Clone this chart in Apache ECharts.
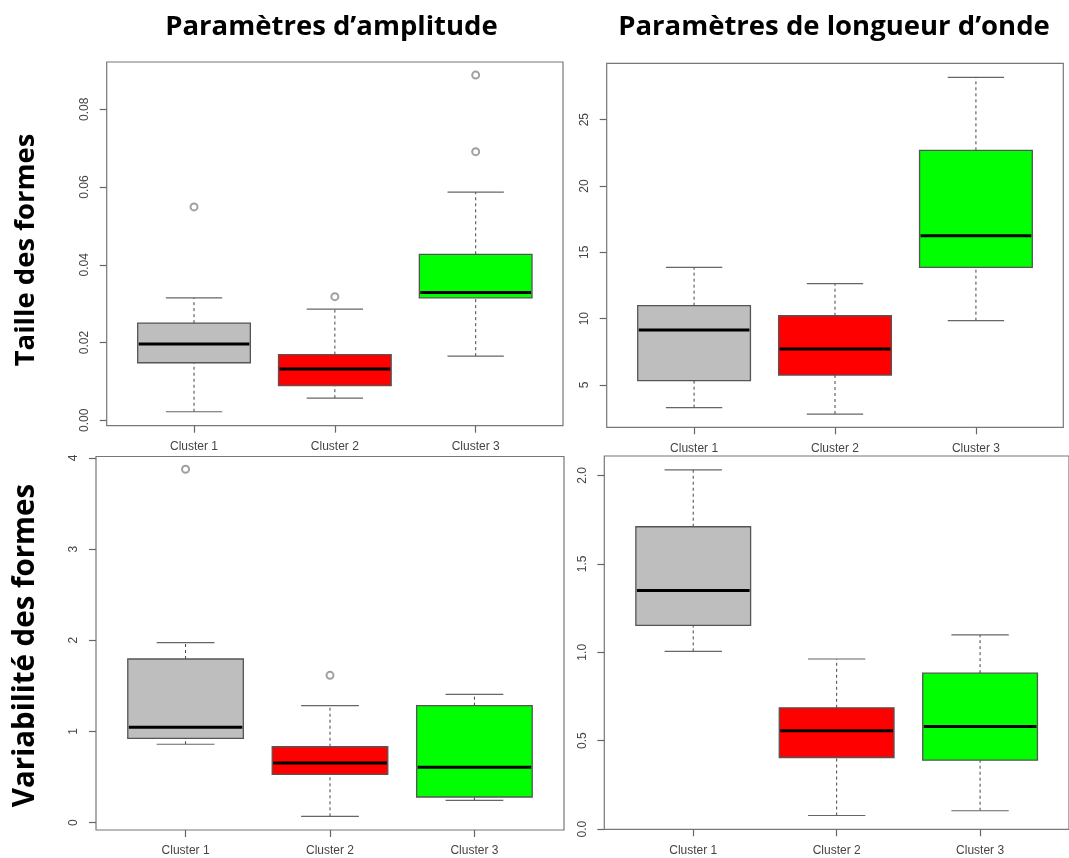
<!DOCTYPE html>
<html>
<head>
<meta charset="utf-8">
<script src="https://cdn.jsdelivr.net/npm/echarts@6/dist/echarts.min.js"></script>
<style>
html,body{margin:0;padding:0;background:#fff;}
#chart{width:1069px;height:858px;}
</style>
</head>
<body>
<div id="chart"></div>
<script>
// ---------- DATA ----------
const categories = ['Cluster 1', 'Cluster 2', 'Cluster 3'];
const colTitles = ['Paramètres d\u2019amplitude', 'Paramètres de longueur d\u2019onde'];
const rowTitles = ['Taille des formes', 'Variabilité des formes'];
const boxColors = ['#BEBEBE', '#FF0000', '#00FF00'];

// each row: [lower whisker, Q1, median, Q3, upper whisker]
const amplitudeSize = [
  [0.0022, 0.0148, 0.0196, 0.0250, 0.0315],
  [0.0057, 0.0089, 0.0132, 0.0169, 0.0286],
  [0.0165, 0.0315, 0.0329, 0.0427, 0.0587]
];
const amplitudeSizeOutliers = [[1, 0.0549], [2, 0.0318], [3, 0.0691], [3, 0.0888]];

const wavelengthSize = [
  [3.29, 5.33, 9.15, 10.98, 13.87],
  [2.81, 5.75, 7.71, 10.22, 12.64],
  [9.85, 13.87, 16.25, 22.69, 28.19]
];
const wavelengthSizeOutliers = [];

const amplitudeVar = [
  [0.86, 0.925, 1.046, 1.795, 1.974],
  [0.07, 0.53, 0.655, 0.833, 1.283],
  [0.245, 0.282, 0.607, 1.283, 1.408]
];
const amplitudeVarOutliers = [[1, 3.875], [2, 1.616]];

const wavelengthVar = [
  [1.005, 1.152, 1.35, 1.71, 2.032],
  [0.077, 0.405, 0.556, 0.686, 0.962],
  [0.104, 0.39, 0.58, 0.882, 1.099]
];
const wavelengthVarOutliers = [];

// tick values and labels
const ampSizeTicks = [0, 0.02, 0.04, 0.06, 0.08];
const ampSizeTickLabels = ['0.00', '0.02', '0.04', '0.06', '0.08'];
const waveSizeTicks = [5, 10, 15, 20, 25];
const waveSizeTickLabels = ['5', '10', '15', '20', '25'];
const ampVarTicks = [0, 1, 2, 3, 4];
const ampVarTickLabels = ['0', '1', '2', '3', '4'];
const waveVarTicks = [0, 0.5, 1, 1.5, 2];
const waveVarTickLabels = ['0.0', '0.5', '1.0', '1.5', '2.0'];
const xTicks = [1, 2, 3];

// ---------- LAYOUT ----------
const panels = [
  {grid: {left: 106.7, top: 62, width: 456.3, height: 363.7}, y: [-0.00139, 0.09217], stats: amplitudeSize, out: amplitudeSizeOutliers, ticks: ampSizeTicks, labels: ampSizeTickLabels},
  {grid: {left: 606.7, top: 63.3, width: 456.6, height: 364}, y: [1.81, 29.25], stats: wavelengthSize, out: wavelengthSizeOutliers, ticks: waveSizeTicks, labels: waveSizeTickLabels},
  {grid: {left: 96, top: 456.5, width: 468, height: 373.5}, y: [-0.080, 4.015], stats: amplitudeVar, out: amplitudeVarOutliers, ticks: ampVarTicks, labels: ampVarTickLabels},
  {grid: {left: 604.3, top: 456, width: 467.5, height: 373.3}, y: [-0.001, 2.11], stats: wavelengthVar, out: wavelengthVarOutliers, ticks: waveVarTicks, labels: waveVarTickLabels}
];

const tickFont = {fontFamily: 'Liberation Sans, Arial, sans-serif', fontSize: 12, color: '#444'};

function renderBox(params, api) {
  const x = api.value(0);
  const low = api.value(1), q1 = api.value(2), med = api.value(3), q3 = api.value(4), high = api.value(5);
  const unit = api.size([1, 0])[0];
  const halfBox = unit * 0.4;
  const halfCap = unit * 0.2;
  const pLow = api.coord([x, low]);
  const pQ1 = api.coord([x, q1]);
  const pMed = api.coord([x, med]);
  const pQ3 = api.coord([x, q3]);
  const pHigh = api.coord([x, high]);
  const cx = pMed[0];
  const color = boxColors[params.dataIndex];
  const edge = '#555';
  const dashStyle = {stroke: '#444', lineWidth: 1, lineDash: [3, 3]};
  const capStyle = {stroke: '#666', lineWidth: 1.2};
  return {
    type: 'group',
    children: [
      {type: 'line', shape: {x1: cx, y1: pLow[1], x2: cx, y2: pQ1[1]}, style: dashStyle},
      {type: 'line', shape: {x1: cx, y1: pQ3[1], x2: cx, y2: pHigh[1]}, style: dashStyle},
      {type: 'line', shape: {x1: cx - halfCap, y1: pLow[1], x2: cx + halfCap, y2: pLow[1]}, style: capStyle},
      {type: 'line', shape: {x1: cx - halfCap, y1: pHigh[1], x2: cx + halfCap, y2: pHigh[1]}, style: capStyle},
      {type: 'rect', shape: {x: cx - halfBox, y: pQ3[1], width: halfBox * 2, height: pQ1[1] - pQ3[1]},
        style: {fill: color, stroke: edge, lineWidth: 1.3}},
      {type: 'line', shape: {x1: cx - halfBox + 1, y1: pMed[1], x2: cx + halfBox - 1, y2: pMed[1]},
        style: {stroke: '#000', lineWidth: 3}}
    ]
  };
}

const grids = [], xAxes = [], yAxes = [], series = [];
panels.forEach((p, i) => {
  grids.push(Object.assign({show: true, borderColor: '#777', borderWidth: 1.2, backgroundColor: 'transparent'}, p.grid));
  xAxes.push({
    type: 'value', gridIndex: i, min: 0.38, max: 3.62, position: 'bottom',
    splitLine: {show: false}, axisLine: {show: false, onZero: false},
    axisTick: {show: true, customValues: xTicks, length: 7, lineStyle: {color: '#666', width: 1.2}},
    axisLabel: Object.assign({show: true, customValues: xTicks, margin: 15,
      formatter: v => categories[Math.round(v) - 1]}, tickFont)
  });
  yAxes.push({
    type: 'value', gridIndex: i, min: p.y[0], max: p.y[1], position: 'left',
    splitLine: {show: false}, axisLine: {show: false, onZero: false},
    axisTick: {show: true, customValues: p.ticks, length: 7, lineStyle: {color: '#666', width: 1.2}},
    axisLabel: Object.assign({show: true, customValues: p.ticks, rotate: 90, margin: 16,
      formatter: v => { const k = p.ticks.findIndex(t => Math.abs(t - v) < 1e-9); return k >= 0 ? p.labels[k] : ''; }}, tickFont)
  });
  series.push({
    type: 'custom', xAxisIndex: i, yAxisIndex: i,
    renderItem: renderBox,
    data: p.stats.map((s, k) => [k + 1].concat(s)),
    encode: {x: 0, y: [1, 2, 3, 4, 5]},
    silent: true, animation: false
  });
  series.push({
    type: 'scatter', xAxisIndex: i, yAxisIndex: i,
    data: p.out,
    symbol: 'emptyCircle', symbolSize: 7,
    itemStyle: {color: '#888', borderColor: '#888', borderWidth: 1.2},
    silent: true, animation: false, z: 5
  });
});

const titleFont = 'Open Sans, Liberation Sans, sans-serif';
const graphic = [
  {type: 'text', x: 331.5, y: 27, style: {text: colTitles[0], font: 'bold 27.5px ' + titleFont, fill: '#000', align: 'center', verticalAlign: 'middle'}},
  {type: 'text', x: 834, y: 27, style: {text: colTitles[1], font: 'bold 27.5px ' + titleFont, fill: '#000', align: 'center', verticalAlign: 'middle'}},
  {type: 'text', x: 26, y: 250, rotation: Math.PI / 2, style: {text: rowTitles[0], font: 'bold 27.5px ' + titleFont, fill: '#000', align: 'center', verticalAlign: 'middle'}},
  {type: 'text', x: 26, y: 645.5, rotation: Math.PI / 2, style: {text: rowTitles[1], font: 'bold 29.5px ' + titleFont, fill: '#000', align: 'center', verticalAlign: 'middle'}}
];

const chart = echarts.init(document.getElementById('chart'), null, {renderer: 'canvas'});
chart.setOption({
  animation: false,
  backgroundColor: '#fff',
  grid: grids,
  xAxis: xAxes,
  yAxis: yAxes,
  series: series,
  graphic: graphic
});
</script>
</body>
</html>
